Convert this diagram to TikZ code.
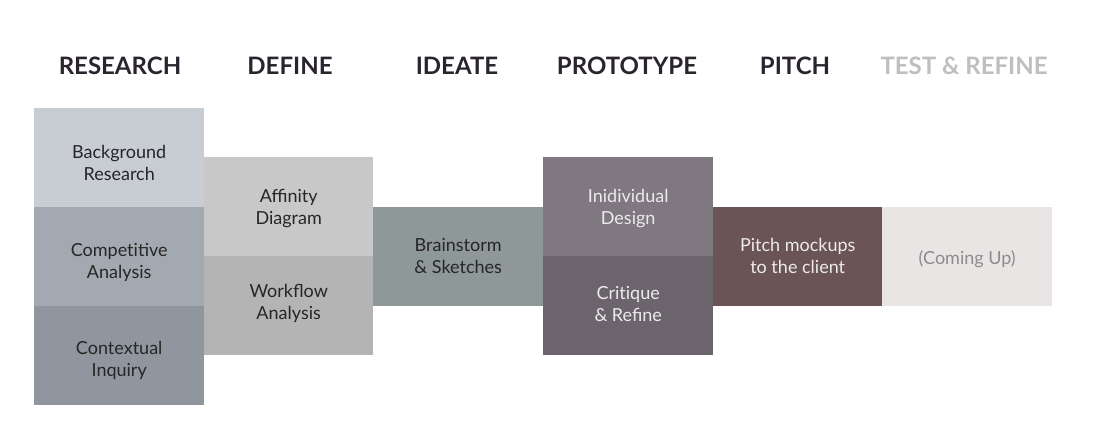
\documentclass[tikz,border=0pt]{standalone}
\usepackage{fontspec}
\setmainfont{Lato}
\begin{document}
\begin{tikzpicture}[x=1pt,y=-1pt,
  cell/.style={draw=none,minimum width=170pt,minimum height=99pt,inner sep=0pt,anchor=north west},
  txt/.style={align=center,font=\fontsize{18}{22}\selectfont,inner sep=0pt},
  darktxt/.style={text=black!85},
  lighttxt/.style={text=white!92!black},
  phase/.style={font=\fontsize{24}{26}\selectfont\bfseries,text=headdark,anchor=base}]
\definecolor{headdark}{HTML}{29242D}
\definecolor{c1a}{HTML}{C8CCD3}
\definecolor{c1b}{HTML}{A3A9B0}
\definecolor{c1c}{HTML}{8F969E}
\definecolor{c2a}{HTML}{C8C8C8}
\definecolor{c2b}{HTML}{B4B4B5}
\definecolor{c3}{HTML}{8E9898}
\definecolor{c4a}{HTML}{7F7880}
\definecolor{c4b}{HTML}{6B646C}
\definecolor{c5}{HTML}{6B5456}
\definecolor{c6}{HTML}{E9E5E5}
\useasboundingbox[fill=white] (0,0) rectangle (1103,447);

% phase headings
\node[phase] (hres) at (120,74) {RESEARCH};
\node[phase] (hdef) at (290,74) {DEFINE};
\node[phase] (hide) at (457,74) {IDEATE};
\node[phase] (hpro) at (627,74) {PROTOTYPE};
\node[phase] (hpit) at (795,74) {PITCH};
\node[phase,text=black!25] (htes) at (964,74) {TEST \& REFINE};

% research column
\node[cell,fill=c1a] (bg) at (34,108) {};
\node[cell,fill=c1b] (comp) at (34,207) {};
\node[cell,fill=c1c] (ctx) at (34,306) {};
\node[txt,darktxt] (bgt) at ([yshift=-5pt]bg.center) {Background\\Research};
\node[txt,darktxt] (compt) at ([yshift=-6pt]comp.center) {Compet\kern0pt itive\\Analysis};
\node[txt,darktxt] (ctxt) at ([yshift=-5pt]ctx.center) {Contextual\\Inquiry};

% define column
\node[cell,minimum width=169pt,fill=c2a] (aff) at (204,157) {};
\node[cell,minimum width=169pt,fill=c2b] (wf) at (204,256) {};
\node[txt,darktxt] (afft) at ([yshift=-2pt]aff.center) {Affinity\\Diagram};
\node[txt,darktxt] (wft) at ([yshift=2pt]wf.center) {Workflow\\Analysis};

% ideate column
\node[cell,fill=c3] (brain) at (373,207) {};
\node[txt,darktxt] (braint) at ([yshift=1pt]brain.center) {Brainstorm\\\& Sketches};

% prototype column
\node[cell,fill=c4a] (ind) at (543,157) {};
\node[cell,fill=c4b] (crit) at (543,256) {};
\node[txt,lighttxt] (indt) at ([yshift=-2pt]ind.center) {Inidividual\\Design};
\node[txt,lighttxt] (critt) at ([yshift=2pt]crit.center) {Crit\kern0pt ique\\\& Refine};

% pitch column
\node[cell,minimum width=169pt,fill=c5] (pitch) at (713,207) {};
\node[txt,lighttxt] (pitcht) at ([yshift=1pt]pitch.center) {Pitch mockups\\to the client};

% test & refine column
\node[cell,fill=c6] (soon) at (882,207) {};
\node[txt,text=black!45] (soont) at ([yshift=-2pt]soon.center) {(Coming Up)};
\end{tikzpicture}
\end{document}
